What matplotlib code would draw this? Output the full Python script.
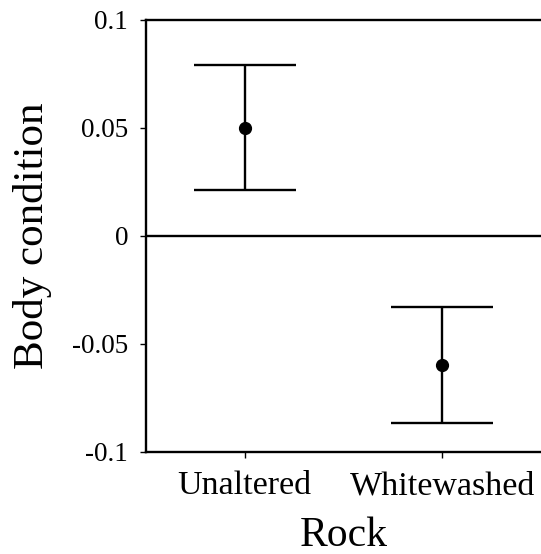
import matplotlib
matplotlib.use("Agg")
import matplotlib.pyplot as plt

categories = ["Unaltered", "Whitewashed"]
means = [0.050, -0.060]
errors = [0.029, 0.027]
yticks = [0.1, 0.05, 0.0, -0.05, -0.1]
ytick_labels = ["0.1", "0.05", "0", "-0.05", "-0.1"]

plt.rcParams["font.family"] = ["Liberation Serif", "DejaVu Serif"]

fig = plt.figure(figsize=(5.41, 5.54), dpi=100)
ax = fig.add_axes([0.270, 0.185, 0.730, 0.779])

x = list(range(len(categories)))
ax.axhline(0, color="black", lw=1.7, zorder=1)
ax.errorbar(x, means, yerr=errors, fmt="o", color="black", ms=8.5,
            elinewidth=1.7, capsize=37, capthick=1.7, zorder=3)

ax.set_xlim(-0.5, 1.5)
ax.set_ylim(-0.1, 0.1)
ax.set_xticks(x)
ax.set_xticklabels(categories, fontsize=24.5)
ax.set_yticks(yticks)
ax.set_yticklabels(ytick_labels, fontsize=19.5)
ax.tick_params(axis="both", direction="out", length=4, width=1, pad=10)
ax.tick_params(axis="y", pad=9)

for s in ["left", "bottom", "top"]:
    ax.spines[s].set_linewidth(1.7)
ax.spines["right"].set_visible(False)

ax.set_xlabel("Rock", fontsize=30, labelpad=11)
ax.set_ylabel("Body condition", fontsize=31, labelpad=14)

fig.savefig("out.png", dpi=100)
